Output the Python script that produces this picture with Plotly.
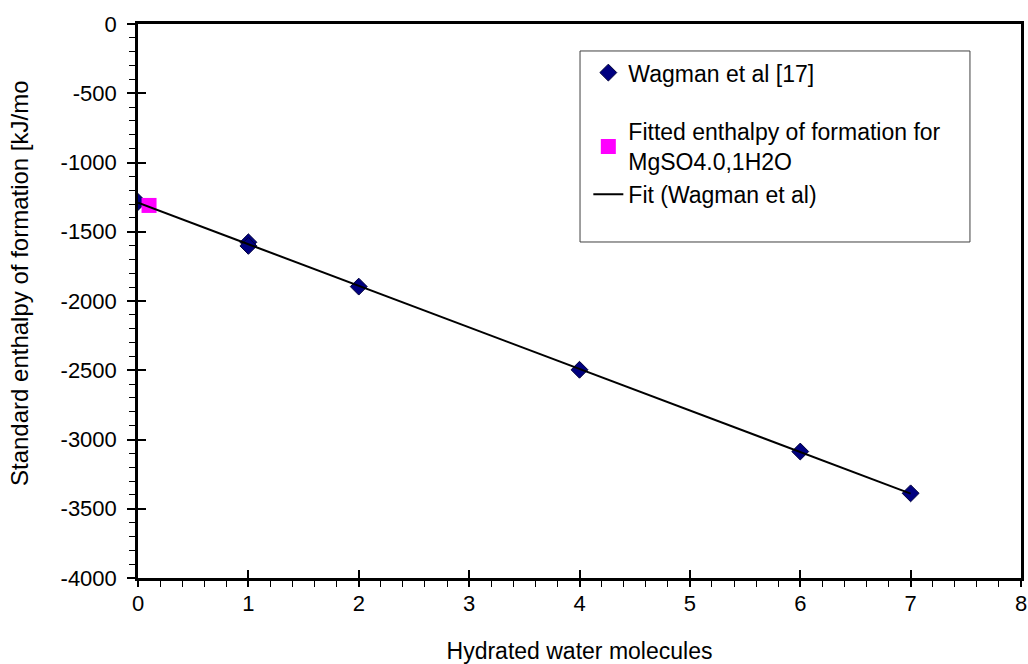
import plotly.graph_objects as go

# Data
wagman_x = [0, 1, 1, 2, 4, 6, 7]
wagman_y = [-1284.9, -1576, -1602.1, -1896.2, -2496.6, -3087.0, -3388.7]
fitted_x = [0.1]
fitted_y = [-1310]
fit_x = [0, 7]
fit_y = [-1290, -3391]

x_ticks = [0, 1, 2, 3, 4, 5, 6, 7, 8]
y_ticks = [0, -500, -1000, -1500, -2000, -2500, -3000, -3500, -4000]

FONT = "Liberation Sans, Arial, sans-serif"

fig = go.Figure()
fig.add_trace(go.Scatter(
    x=wagman_x, y=wagman_y, mode="markers", name="Wagman et al [17]",
    marker=dict(symbol="diamond", size=13, color="#000080",
                line=dict(color="#00003a", width=1)),
    legendgroup="a"))
fig.add_trace(go.Scatter(
    x=fitted_x, y=fitted_y, mode="markers",
    name="Fitted enthalpy of formation for<br>MgSO4.0,1H2O",
    marker=dict(symbol="square", size=15, color="#FF00FF",
                line=dict(width=0)),
    legendgroup="b"))
fig.add_trace(go.Scatter(
    x=fit_x, y=fit_y, mode="lines", name="Fit (Wagman et al)",
    line=dict(color="black", width=2), legendgroup="b"))
# empty traces to carry the tick overlay axes
fig.add_trace(go.Scatter(x=[], y=[], xaxis="x2", yaxis="y2",
                         showlegend=False, hoverinfo="skip"))
fig.add_trace(go.Scatter(x=[], y=[], xaxis="x3", yaxis="y2",
                         showlegend=False, hoverinfo="skip"))

axis_common = dict(showgrid=False, zeroline=False, showline=True,
                   linecolor="black", linewidth=2.5, mirror=True,
                   tickwidth=1.5, tickcolor="black", automargin=False,
                   tickfont=dict(family=FONT, size=22, color="black"))

overlay_common = dict(showticklabels=False, showline=False, showgrid=False,
                      zeroline=False, tickwidth=1.5, tickcolor="black",
                      automargin=False, tickmode="array")

fig.update_layout(
    width=1028, height=664,
    margin=dict(l=138, r=7, t=24, b=86),
    paper_bgcolor="white", plot_bgcolor="white",
    font=dict(family=FONT, size=22, color="black"),
    xaxis=dict(range=[0, 8], tickmode="array", tickvals=x_ticks,
               ticktext=[str(v) for v in x_ticks],
               ticks="outside", ticklen=4,
               minor=dict(dtick=0.2, ticks="outside", ticklen=6,
                          tickwidth=1.2, tickcolor="black"),
               title=dict(text="Hydrated water molecules",
                          font=dict(family=FONT, size=23), standoff=37),
               **axis_common),
    yaxis=dict(range=[-4000, 0], tickmode="array", tickvals=y_ticks,
               ticktext=[str(v) for v in y_ticks],
               ticks="outside", ticklen=8,
               minor=dict(dtick=100, ticks="outside", ticklen=6,
                          tickwidth=1.2, tickcolor="black"),
               ticklabelstandoff=6,
               **axis_common),
    xaxis2=dict(overlaying="x", range=[0, 8], side="bottom",
                tickvals=x_ticks, ticks="inside", ticklen=8,
                **overlay_common),
    xaxis3=dict(overlaying="x", range=[0, 8], side="bottom",
                tickvals=x_ticks, ticks="outside", ticklen=8,
                **overlay_common),
    yaxis2=dict(overlaying="y", range=[-4000, 0], side="left",
                tickvals=y_ticks, ticks="inside", ticklen=8,
                **overlay_common),
    legend=dict(x=0.51, y=0.951, xanchor="left", yanchor="top",
                bgcolor="rgba(0,0,0,0)", borderwidth=0,
                traceorder="grouped", tracegroupgap=26,
                font=dict(family=FONT, size=23, color="black")),
    shapes=[dict(type="rect", xref="paper", yref="paper",
                 x0=0.5006, x1=0.9422, y0=0.6065, y1=0.9513,
                 line=dict(color="#404040", width=1),
                 fillcolor="rgba(0,0,0,0)", layer="below")],
    annotations=[dict(text="Standard enthalpy of formation [kJ/mo",
                      xref="paper", yref="paper", x=-0.1336, y=0.5325,
                      xanchor="center", yanchor="middle", textangle=-90,
                      showarrow=False,
                      font=dict(family=FONT, size=24, color="black"))],
    showlegend=True,
)

fig.write_html("out.html")
